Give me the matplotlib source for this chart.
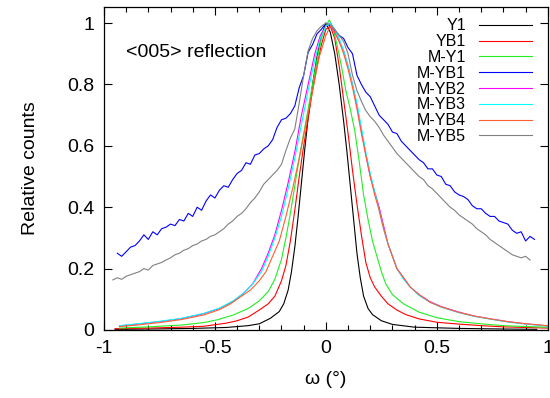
import numpy as np
import matplotlib.pyplot as plt

plt.rcParams['font.family'] = ['Liberation Sans', 'DejaVu Sans']

# omega (deg) and relative counts
w_y1 = [-0.95, -0.8, -0.6, -0.45, -0.35, -0.3, -0.25, -0.21, -0.19, -0.17,
        -0.155, -0.14, -0.125, -0.11, -0.095, -0.08, -0.06, -0.04, -0.02, 0.0,
        0.02, 0.04, 0.06, 0.08, 0.095, 0.11, 0.125, 0.14, 0.155, 0.17,
        0.19, 0.21, 0.25, 0.3, 0.4, 0.6, 0.8, 0.95]
c_y1 = [0.002, 0.003, 0.005, 0.008, 0.014, 0.02, 0.038, 0.06, 0.085, 0.13,
        0.19, 0.27, 0.37, 0.48, 0.59, 0.69, 0.8, 0.89, 0.96, 1.0,
        0.97, 0.9, 0.8, 0.68, 0.58, 0.47, 0.36, 0.25, 0.17, 0.11,
        0.07, 0.05, 0.03, 0.018, 0.009, 0.005, 0.003, 0.002]

w_yb1 = [-0.95, -0.8, -0.65, -0.55, -0.45, -0.4, -0.35, -0.3, -0.26, -0.23,
         -0.2, -0.18, -0.16, -0.14, -0.12, -0.1, -0.08, -0.06, -0.04, -0.02,
         0.0, 0.02, 0.04, 0.06, 0.08, 0.1, 0.12, 0.14, 0.16, 0.18,
         0.2, 0.22, 0.25, 0.28, 0.32, 0.36, 0.42, 0.5, 0.6, 0.7,
         0.8, 0.9, 1.0]
c_yb1 = [0.004, 0.006, 0.009, 0.012, 0.022, 0.03, 0.042, 0.065, 0.085, 0.11,
         0.16, 0.21, 0.29, 0.39, 0.5, 0.6, 0.69, 0.78, 0.86, 0.93,
         0.98, 0.99, 0.95, 0.86, 0.75, 0.64, 0.52, 0.41, 0.31, 0.22,
         0.17, 0.14, 0.11, 0.085, 0.065, 0.05, 0.036, 0.025, 0.019, 0.014,
         0.01, 0.008, 0.006]

w_my1 = [-0.93, -0.8, -0.65, -0.55, -0.49, -0.42, -0.35, -0.3, -0.26, -0.23,
         -0.2, -0.18, -0.16, -0.14, -0.12, -0.1, -0.08, -0.06, -0.04, -0.02,
         0.0, 0.015, 0.03, 0.05, 0.07, 0.09, 0.11, 0.13, 0.15, 0.17,
         0.19, 0.21, 0.23, 0.25, 0.27, 0.3, 0.35, 0.42, 0.5, 0.6,
         0.7, 0.8, 0.9, 1.0]
c_my1 = [0.006, 0.01, 0.016, 0.024, 0.033, 0.048, 0.07, 0.095, 0.125, 0.165,
         0.23, 0.3, 0.38, 0.47, 0.56, 0.64, 0.72, 0.8, 0.88, 0.95,
         0.99, 1.01, 0.99, 0.93, 0.86, 0.78, 0.72, 0.65, 0.55, 0.44,
         0.36, 0.29, 0.24, 0.19, 0.15, 0.115, 0.085, 0.058, 0.04, 0.027,
         0.02, 0.014, 0.011, 0.009]

w_myb1 = np.round(np.arange(-0.94, 0.9401, 0.02), 2)
c_myb1 = [0.25, 0.24, 0.255, 0.27, 0.275, 0.29, 0.31, 0.295, 0.32, 0.31,
          0.33, 0.335, 0.345, 0.34, 0.36, 0.355, 0.38, 0.37, 0.40, 0.39,
          0.42, 0.44, 0.43, 0.455, 0.47, 0.465, 0.49, 0.51, 0.52, 0.545,
          0.54, 0.57, 0.575, 0.59, 0.60, 0.62, 0.66, 0.685, 0.69, 0.705,
          0.73, 0.79, 0.83, 0.905, 0.93, 0.965, 0.98, 1.0, 0.99, 0.975,
          0.96, 0.95, 0.92, 0.90, 0.83, 0.80, 0.775, 0.76, 0.73, 0.70,
          0.685, 0.67, 0.645, 0.64, 0.615, 0.60, 0.585, 0.57, 0.555, 0.545,
          0.525, 0.525, 0.505, 0.50, 0.475, 0.47, 0.45, 0.44, 0.435, 0.425,
          0.405, 0.395, 0.395, 0.38, 0.37, 0.37, 0.355, 0.35, 0.345, 0.325,
          0.315, 0.32, 0.29, 0.305, 0.295]

w_myb2 = [-0.93, -0.85, -0.75, -0.65, -0.55, -0.48, -0.42, -0.37, -0.33, -0.29,
          -0.26, -0.23, -0.2, -0.17, -0.14, -0.11, -0.08, -0.05, -0.025, 0.0,
          0.02, 0.04, 0.06, 0.08, 0.1, 0.12, 0.14, 0.16, 0.18, 0.2,
          0.22, 0.24, 0.26, 0.28, 0.3, 0.32, 0.35, 0.38, 0.42, 0.47,
          0.52, 0.6, 0.67, 0.75, 0.82, 0.9, 1.0]
c_myb2 = [0.013, 0.019, 0.027, 0.037, 0.053, 0.07, 0.092, 0.12, 0.15, 0.2,
          0.25, 0.31, 0.39, 0.48, 0.58, 0.7, 0.8, 0.9, 0.96, 0.99,
          1.0, 0.97, 0.94, 0.91, 0.86, 0.8, 0.73, 0.65, 0.57, 0.5,
          0.45, 0.4, 0.34, 0.28, 0.24, 0.2, 0.17, 0.14, 0.115, 0.092,
          0.076, 0.058, 0.045, 0.035, 0.027, 0.02, 0.013]
c_myb3 = [0.014, 0.02, 0.028, 0.038, 0.054, 0.071, 0.094, 0.12, 0.15, 0.19,
          0.24, 0.3, 0.37, 0.46, 0.56, 0.67, 0.78, 0.88, 0.95, 0.99,
          1.0, 0.98, 0.95, 0.91, 0.86, 0.8, 0.74, 0.66, 0.58, 0.51,
          0.45, 0.39, 0.33, 0.28, 0.24, 0.2, 0.165, 0.14, 0.112, 0.09,
          0.074, 0.056, 0.044, 0.034, 0.026, 0.019, 0.013]

w_myb4 = [-0.93, -0.85, -0.75, -0.65, -0.55, -0.48, -0.43, -0.38, -0.34, -0.3,
          -0.27, -0.24, -0.21, -0.18, -0.15, -0.12, -0.09, -0.06, -0.03, 0.0,
          0.02, 0.04, 0.06, 0.08, 0.1, 0.12, 0.14, 0.16, 0.18, 0.2,
          0.22, 0.24, 0.26, 0.28, 0.3, 0.32, 0.35, 0.38, 0.42, 0.47,
          0.52, 0.6, 0.67, 0.75, 0.82, 0.9, 1.0]
c_myb4 = [0.011, 0.016, 0.024, 0.034, 0.049, 0.066, 0.085, 0.11, 0.13, 0.16,
          0.19, 0.24, 0.29, 0.37, 0.46, 0.56, 0.67, 0.78, 0.89, 0.96,
          0.99, 0.97, 0.94, 0.9, 0.85, 0.79, 0.72, 0.64, 0.57, 0.5,
          0.44, 0.39, 0.33, 0.28, 0.24, 0.2, 0.17, 0.14, 0.115, 0.09,
          0.075, 0.057, 0.045, 0.035, 0.027, 0.02, 0.014]

w_myb5 = np.round(np.arange(-0.96, 0.9201, 0.02), 2)
c_myb5 = [0.163, 0.17, 0.165, 0.175, 0.18, 0.185, 0.19, 0.2, 0.195, 0.21,
          0.215, 0.22, 0.228, 0.235, 0.245, 0.25, 0.26, 0.265, 0.275, 0.28,
          0.29, 0.295, 0.305, 0.31, 0.32, 0.33, 0.345, 0.355, 0.37, 0.38,
          0.395, 0.415, 0.43, 0.45, 0.475, 0.49, 0.505, 0.52, 0.54, 0.585,
          0.625, 0.655, 0.74, 0.83, 0.91, 0.95, 0.975, 0.99, 1.0, 0.995,
          0.98, 0.96, 0.94, 0.9, 0.83, 0.78, 0.745, 0.715, 0.695, 0.68,
          0.66, 0.635, 0.615, 0.595, 0.575, 0.56, 0.545, 0.53, 0.515, 0.5,
          0.49, 0.47, 0.46, 0.445, 0.43, 0.415, 0.4, 0.39, 0.375, 0.365,
          0.355, 0.345, 0.33, 0.32, 0.31, 0.295, 0.285, 0.275, 0.265, 0.255,
          0.245, 0.24, 0.235, 0.24, 0.228]

series = [
    ("Y1", w_y1, c_y1, "black"),
    ("YB1", w_yb1, c_yb1, "#ff0000"),
    ("M-Y1", w_my1, c_my1, "#22ee22"),
    ("M-YB1", w_myb1, c_myb1, "#0000ff"),
    ("M-YB2", w_myb2, c_myb2, "#ff00ff"),
    ("M-YB3", w_myb2, c_myb3, "#00ffff"),
    ("M-YB4", w_myb4, c_myb4, "#ff6030"),
    ("M-YB5", w_myb5, c_myb5, "#808080"),
]

fig = plt.figure(figsize=(5.5, 3.98), dpi=100)
ax = fig.add_axes([0.189, 0.171, 0.807, 0.811])

for name, w, c, col in series:
    ax.plot(w, c, color=col, lw=0.8, label=name)

ax.set_xlim(-1, 1)
ax.set_ylim(0, 1.052)
ax.set_xticks([-1, -0.5, 0, 0.5, 1])
ax.set_xticklabels(["-1", "-0.5", "0", "0.5", "1"])
ax.set_xticks(np.arange(-1, 1.01, 0.1), minor=True)
ax.set_yticks([0, 0.2, 0.4, 0.6, 0.8, 1])
ax.set_yticklabels(["0", "0.2", "0.4", "0.6", "0.8", "1"])
ax.tick_params(direction='in', top=True, right=True, labelsize=14,
               length=6, width=0.8, pad=7)
ax.tick_params(which='minor', direction='in', top=True, length=3.5, width=0.8)
for s in ax.spines.values():
    s.set_linewidth(0.9)

ax.set_xlabel("ω (°)", fontsize=14, labelpad=10)
ax.set_ylabel("Relative counts", fontsize=14, labelpad=20)
ax.text(-0.9, 0.905, "<005> reflection", fontsize=14, va='center')

ax.legend(loc='upper right', frameon=False, markerfirst=False, fontsize=11.5,
          labelspacing=0.05, handlelength=3.3, handletextpad=0.8,
          borderaxespad=0.2, bbox_to_anchor=(0.985, 0.995))

fig.savefig("out.png", dpi=100)
